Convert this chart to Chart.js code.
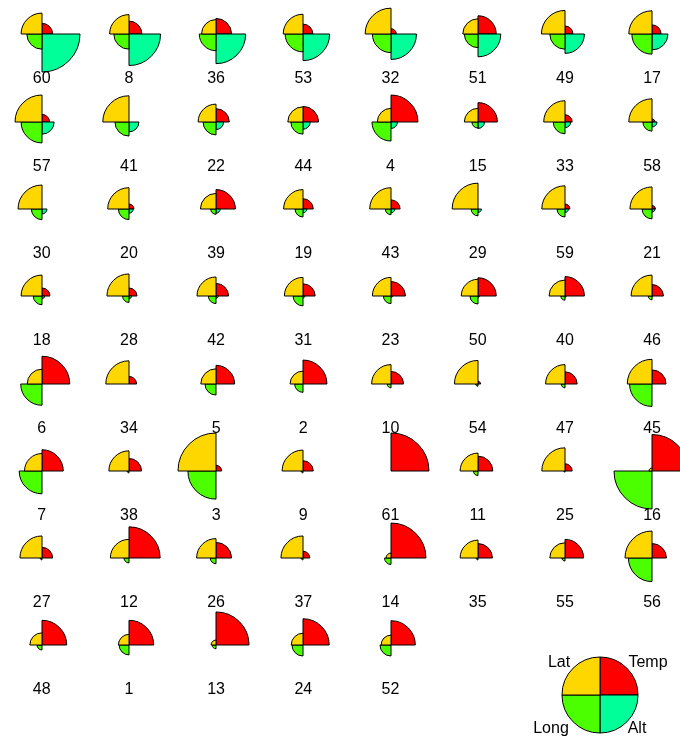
<!DOCTYPE html>
<html>
<head>
<meta charset="utf-8">
<script src="https://cdn.jsdelivr.net/npm/chart.js@4/dist/chart.umd.min.js"></script>
<style>
  body { margin: 0; background: #fff; overflow: hidden; }
  #board { position: relative; width: 680px; height: 736px; overflow: hidden;
           font-family: "Liberation Sans", Arial, sans-serif; }
  .star { position: absolute; }
  .lbl { position: absolute; font-size: 16px; color: #000; white-space: nowrap;
         transform: translate(-50%, -50%); line-height: 1; }
</style>
</head>
<body>
<div id="board"></div>
<script>
// station ids in plotting order (row by row, 8 per row)
const stations = [60, 8, 36, 53, 32, 51, 49, 17,
                  57, 41, 22, 44, 4, 15, 33, 58,
                  30, 20, 39, 19, 43, 29, 59, 21,
                  18, 28, 42, 31, 23, 50, 40, 46,
                  6, 34, 5, 2, 10, 54, 47, 45,
                  7, 38, 3, 9, 61, 11, 25, 16,
                  27, 12, 26, 37, 14, 35, 55, 56,
                  48, 1, 13, 24, 52];

// variables rescaled to 0..1
const temp = [.28, .34, .41, .26, .14, .48, .21, .24,
              .20, 0, .35, .41, .71, .51, .19, .08,
              0, .13, .51, .27, .24, 0, .13, .09,
              .21, .21, .33, .32, .38, .48, .51, .30,
              .73, .20, .49, .63, .33, .07, .32, .37,
              .56, .33, .15, .27, 1, .39, .19, .96,
              .28, .82, .41, .18, .92, .38, .49, .38,
              .65, .65, .87, .69, .64];

const lat = [.55, .51, .38, .52, .68, .40, .62, .61,
             .71, .69, .47, .40, .36, .36, .56, .61,
             .63, .56, .41, .51, .56, .68, .61, .58,
             .55, .58, .50, .49, .49, .44, .42, .55,
             .39, .61, .40, .34, .51, .62, .51, .65,
             .46, .53, 1, .55, 0, .47, .61, .08,
             .58, .49, .51, .58, .13, .47, .40, .71,
             .32, .28, .13, .31, .26];

const long = [.40, .40, .44, .47, .49, .36, .40, .53,
              .55, .37, .34, .32, .50, .16, .31, .24,
              .28, .28, .14, .21, .15, .18, .21, .26,
              .23, .17, .20, .26, .20, .21, .11, .10,
              .56, 0, .29, .22, .10, .06, .10, .59,
              .60, .05, .74, .05, 0, .12, .03, 1,
              .05, .13, .15, .05, .17, .05, .08, .62,
              .13, .26, .10, .29, .29];

const alt = [1, .83, .78, .70, .67, .60, .51, .42,
             .32, .26, .20, .19, .17, .17, .15, .13,
             .13, .11, .11, .10, .10, .09, .09, .08,
             .07, .07, .06, .05, .04, .04, .03, .02,
             0, 0, 0, 0, 0, 0, 0, 0,
             0, 0, 0, 0, 0, 0, 0, 0,
             0, 0, 0, 0, 0, 0, 0, 0,
             0, 0, 0, 0, 0];

// segments run clockwise from 12 o'clock: Temp, Alt, Long, Lat
const segLabels = ['Temp', 'Alt', 'Long', 'Lat'];
const segColors = ['#FF0000', '#00FF99', '#4CFF00', '#FFD700'];

const board = document.getElementById('board');
const SIZE = 80;

function addLabel(text, x, y) {
    const d = document.createElement('div');
    d.className = 'lbl';
    d.textContent = text;
    d.style.left = x + 'px';
    d.style.top = y + 'px';
    board.appendChild(d);
}

function drawStar(cx, cy, values) {
    const canvas = document.createElement('canvas');
    canvas.width = SIZE;
    canvas.height = SIZE;
    canvas.className = 'star';
    canvas.style.left = (Math.round(cx) - SIZE / 2) + 'px';
    canvas.style.top = (Math.round(cy) - SIZE / 2) + 'px';
    board.appendChild(canvas);
    new Chart(canvas, {
        type: 'polarArea',
        data: {
            labels: segLabels,
            datasets: [{
                data: values,
                backgroundColor: segColors,
                borderColor: '#000',
                borderWidth: 1
            }]
        },
        options: {
            responsive: false,
            animation: false,
            layout: { padding: 2 },
            plugins: { legend: { display: false }, tooltip: { enabled: false } },
            scales: { r: { display: false, min: 0, max: 1 } }
        }
    });
}

const labels = [];
stations.forEach((id, i) => {
    const col = i % 8;
    const row = Math.floor(i / 8);
    const cx = 41.7 + col * 87.2;
    const cy = 34.3 + row * 87.3;
    drawStar(cx, cy, [temp[i], alt[i], long[i], lat[i]]);
    labels.push([String(id), cx, cy + 44]);
});

// key
drawStar(600, 695, [1, 1, 1, 1]);

labels.forEach(l => addLabel(l[0], l[1], l[2]));
addLabel('Lat', 559, 662);
addLabel('Temp', 648, 662);
addLabel('Long', 551, 728);
addLabel('Alt', 637, 728);
</script>
</body>
</html>
